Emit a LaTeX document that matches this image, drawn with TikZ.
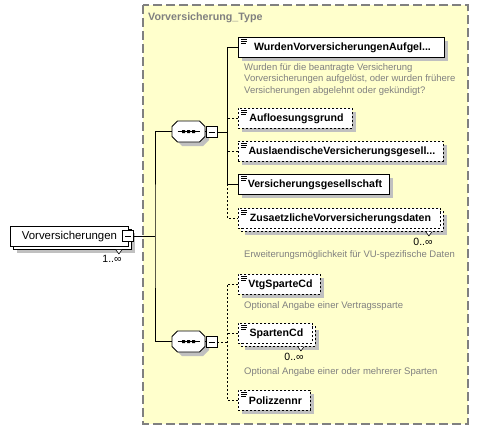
\documentclass[tikz,border=0pt]{standalone}
\usepackage{fontspec}
\setmainfont{Liberation Sans}
\usetikzlibrary{shadows}
\definecolor{panel}{RGB}{255,255,204}
\definecolor{panelborder}{RGB}{128,128,128}
\definecolor{shadowc}{RGB}{192,192,192}
\definecolor{doccol}{RGB}{128,128,128}
\newcommand{\seqdraw}[3]{%
  \begin{scope}[shift={(#2,#3)}]
    \fill[shadowc] (-10.5,-6.5) -- (10.5,-6.5) -- (20.5,-0.5) -- (20.5,8.5) -- (14.5,14.5) -- (-6.5,14.5) -- (-12.5,8.5) -- cycle;
    \filldraw[fill=white,draw=black,line width=0.9pt] (-11,-10.5) -- (11,-10.5) -- (16.5,-5) -- (16.5,5) -- (11,10.5) -- (-11,10.5) -- (-16.5,5) -- (-16.5,-5) -- cycle;
    \draw[black,line width=0.9pt] (-11,0) -- (11,0);
    \fill[black] (-6.5,-1.5) rectangle (-3.5,1.5) (-1.5,-1.5) rectangle (1.5,1.5) (3.5,-1.5) rectangle (6.5,1.5);
  \end{scope}
  \node[seqnode] (#1) at (#2,#3) {};}
\begin{document}
\begin{tikzpicture}[x=1pt,y=-1pt,
  conn/.style={draw=black,line width=0.9pt},
  optconn/.style={draw=black,line width=0.9pt,dash pattern=on 2pt off 2pt},
  elembase/.style={draw=black,fill=white,line width=0.9pt,minimum height=20pt,inner sep=0pt,anchor=north west,
     font=\fontsize{10.6}{12}\selectfont\bfseries},
  elemsolid/.style={elembase,general shadow={fill=shadowc,draw=none,shadow xshift=4pt,shadow yshift=-4pt}},
  elemopt/.style={elembase,dash pattern=on 2pt off 2pt,general shadow={fill=shadowc,draw=none,shadow xshift=4pt,shadow yshift=-4pt}},
  elemoptmulti/.style={elembase,dash pattern=on 2pt off 2pt,
     general shadow={fill=shadowc,draw=none,shadow xshift=7pt,shadow yshift=-7pt},
     general shadow={fill=white,draw=black,line width=0.9pt,dash pattern=on 2pt off 2pt,shadow xshift=3pt,shadow yshift=-3pt}},
  rootbox/.style={elembase,font=\fontsize{11.4}{12}\selectfont,
     general shadow={fill=shadowc,draw=none,shadow xshift=7pt,shadow yshift=-7pt},
     general shadow={fill=white,draw=black,line width=0.9pt,shadow xshift=3pt,shadow yshift=-3pt}},
  minusbox/.style={draw=black,fill=white,line width=0.9pt,minimum width=11pt,minimum height=11pt,inner sep=0pt,
     path picture={\draw[black,line width=0.9pt] ([xshift=2.5pt]path picture bounding box.west) -- ([xshift=-2.5pt]path picture bounding box.east);}},
  seqnode/.style={minimum width=33pt,minimum height=21pt,inner sep=0pt},
  doc/.style={font=\fontsize{9.5}{11.8}\selectfont,text=doccol,inner sep=0pt,anchor=west,align=left},
  mult/.style={font=\fontsize{10.5}{11}\selectfont,inner sep=0pt}
]
\useasboundingbox (0,0) rectangle (479,431);
% panel
\fill[panel] (143,5) rectangle (468,424);
\draw[panelborder,line width=1.2pt,dash pattern=on 9pt off 4pt] (143,5) rectangle (468,424);
\node[anchor=west,inner sep=0pt,text=doccol,font=\fontsize{10.7}{12}\selectfont\bfseries] (title) at (148,18) {Vorversicherung\_Type};

% root
\node[rootbox,minimum width=118pt] (root) at (10,226) {Vorversicherungen\hspace{5pt}};
\node[minusbox] (rootm) at (128,236) {};
\node[mult] (rootmult) at (112,259) {1..∞};

% sequences
\seqdraw{seq1}{188.5}{131.5}
\node[minusbox] (s1m) at (211.5,132) {};
\seqdraw{seq2}{188.5}{341.5}
\node[minusbox] (s2m) at (211.5,342) {};

\coordinate (vL) at (155,236);
\coordinate (vR) at (227,0);

% children
\node[elemsolid,minimum width=206pt] (wurden) at (238,37) {\hspace{2pt}WurdenVorversicherungenAufgel...};
\node[elemopt,minimum width=114pt] (aufl) at (238,108) {\hspace{2pt}Aufloesungsgrund};
\node[elemopt,minimum width=205pt] (ausl) at (238,141) {\hspace{2pt}AuslaendischeVersicherungsgesell...};
\node[elemsolid,minimum width=151pt] (vg) at (238,174) {\hspace{2pt}Versicherungsgesellschaft};
\node[elemoptmulti,minimum width=202pt] (zus) at (238,208) {\hspace{2pt}ZusaetzlicheVorversicherungsdaten};
\node[elemopt,minimum width=82pt] (vtg) at (238,274) {\hspace{2pt}VtgSparteCd};
\node[elemoptmulti,minimum width=74pt] (sparten) at (238,323) {\hspace{2pt}SpartenCd};
\node[elemopt,minimum width=72pt] (poliz) at (238,390) {\hspace{2pt}Polizzennr};

% element icons
\foreach \n in {wurden,aufl,ausl,vg,zus,vtg,sparten,poliz}{
  \draw[black,line width=0.6pt] ([shift={(3,2.5)}]\n.north west) -- ++(6,0)
     ([shift={(3,4.5)}]\n.north west) -- ++(6,0)
     ([shift={(3,6.5)}]\n.north west) -- ++(5,0);
}
% multiplicity notches
\foreach \n/\dx in {zus/-12,sparten/-12,root/-10}{
  \filldraw[fill=white,draw=black,line width=0.6pt] ([shift={(\dx-3,3)}]\n.south east) -- ([shift={(\dx,7)}]\n.south east) -- ([shift={(\dx+3,3)}]\n.south east);
}

% docs
\node[doc,anchor=north west] (wurdoc) at (244,63) {Wurden für die beantragte Versicherung\\Vorversicherungen aufgelöst, oder wurden frühere\\Versicherungen abgelehnt oder gekündigt?};
\node[mult] (zusmult) at (423,242) {0..∞};
\node[doc] (zusdoc) at (244,255) {Erweiterungsmöglichkeit für VU-spezifische Daten};
\node[doc] (vtgdoc) at (244,306) {Optional Angabe einer Vertragssparte};
\node[mult] (spmult) at (294,357) {0..∞};
\node[doc] (spdoc) at (244,372) {Optional Angabe einer oder mehrerer Sparten};

% connectors
\draw[conn] (rootm.east) -- (vL);
\draw[conn] (seq1.west) -| (vL) |- (seq2.west);
\draw[conn] (seq1.east) -- (s1m.west |- seq1.east);
\draw[conn] (seq2.east) -- (s2m.west |- seq2.east);
\draw[conn] (s1m.east) -- (s1m.east -| vR);
\draw[conn] (wurden.west) -| (vR |- vg.west) -- (vg.west);
\draw[optconn] (aufl.west) -- (aufl.west -| vR);
\draw[optconn] (ausl.west) -- (ausl.west -| vR);
\draw[optconn] (vR |- vg.west) |- (zus.west);
\draw[optconn] (s2m.east) -- (s2m.east -| vR);
\draw[optconn] (vtg.west) -| (vR |- poliz.west) -- (poliz.west);
\draw[optconn] (sparten.west) -- (sparten.west -| vR);
\end{tikzpicture}
\end{document}
